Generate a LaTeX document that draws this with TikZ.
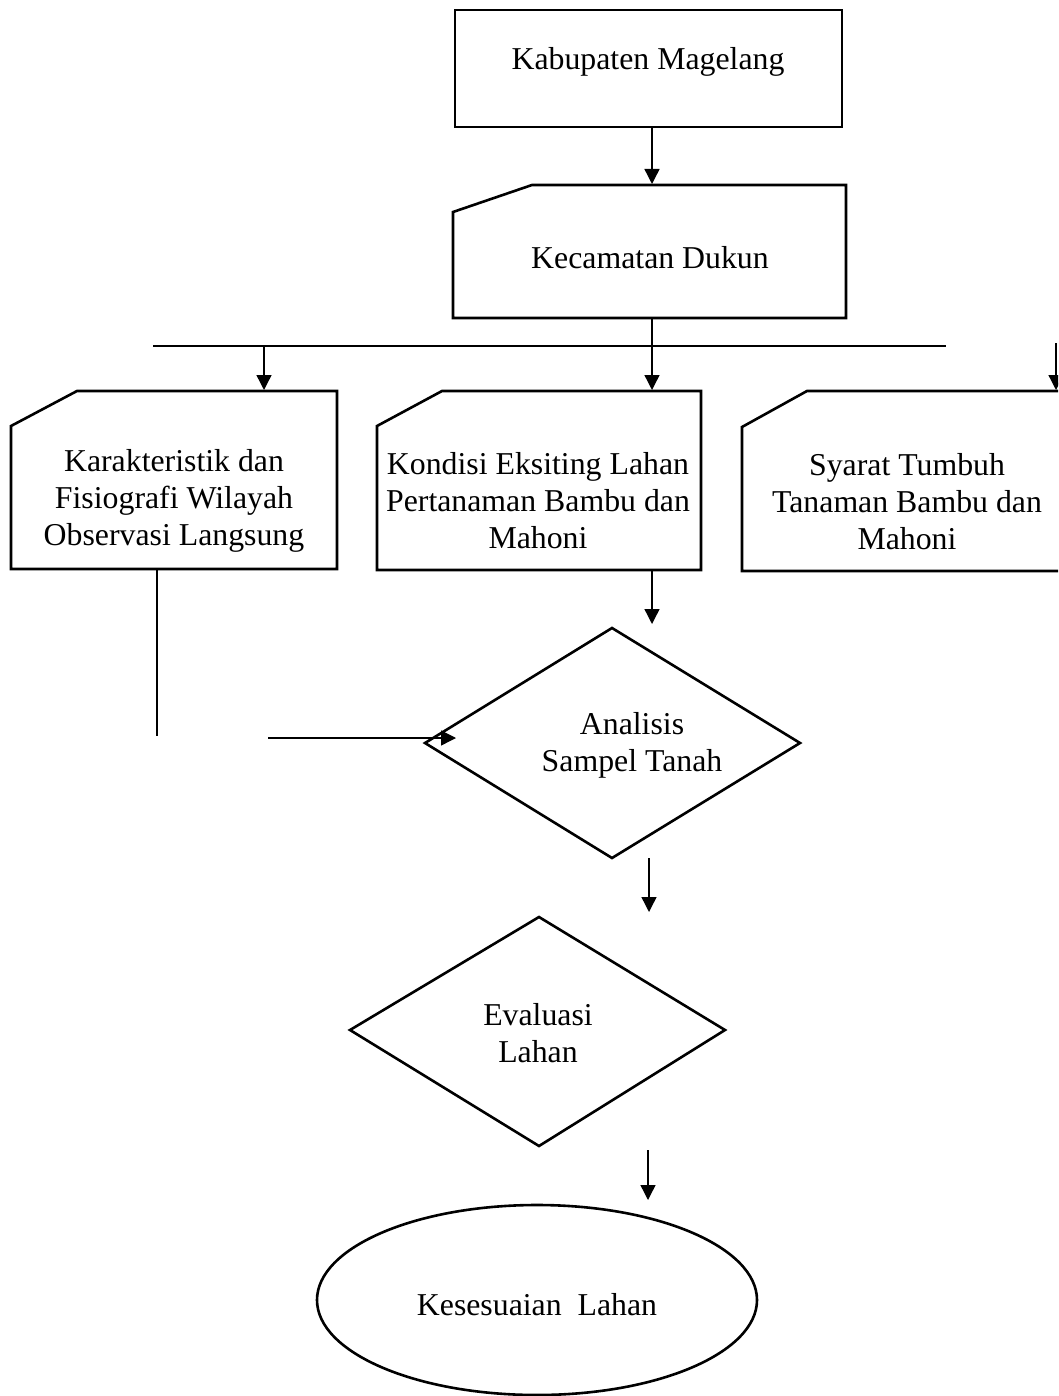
\documentclass[tikz,border=0pt]{standalone}
\usepackage{fontspec}
\setmainfont{Liberation Serif}
\usetikzlibrary{arrows.meta}
\tikzset{
  shapeline/.style={line width=2.6pt, line join=miter},
  conn/.style={line width=1.4pt},
  arr/.style={conn, -{Triangle[length=15pt,width=15pt]}},
  lbl/.style={align=center, font=\fontsize{31.8}{37}\selectfont, inner sep=0pt},
}
\begin{document}
\begin{tikzpicture}[x=1pt,y=-1pt]
\useasboundingbox (0,0) rectangle (1058,1396);
\begin{scope}
\clip (0,0) rectangle (1058,1396);
% Box 1
\draw[shapeline] (455,10) rectangle (842,127);
\node[lbl] (kab) at (648,62) {Kabupaten Magelang};
\coordinate (kabB) at (652,127);
% Card: Kecamatan
\draw[shapeline] (532,185) -- (846,185) -- (846,318) -- (453,318) -- (453,212) -- cycle;
\node[lbl] (kec) at (650,258) {Kecamatan Dukun};
\coordinate (kecT) at (652,184);
\coordinate (kecB) at (652,318);
% Card A
\draw[shapeline] (77,391) -- (337,391) -- (337,569) -- (11,569) -- (11,426) -- cycle;
\node[lbl] (kar) at (174,501) {Karakteristik dan\\Fisiografi Wilayah\\Observasi Langsung};
\coordinate (karT) at (264,390);
\coordinate (karB) at (157,570);
% Card B
\draw[shapeline] (442,391) -- (701,391) -- (701,570) -- (377,570) -- (377,426) -- cycle;
\node[lbl] (kon) at (538,501) {Kondisi Eksiting Lahan\\Pertanaman Bambu dan\\Mahoni};
\coordinate (konT) at (652,390);
\coordinate (konB) at (652,571);
% Card C
\draw[shapeline] (807,391) -- (1070,391) -- (1070,571) -- (742,571) -- (742,427) -- cycle;
\node[lbl] (sya) at (907,502) {Syarat Tumbuh\\Tanaman Bambu dan\\Mahoni};
\coordinate (syaT) at (1056,390);
% Diamond 1
\draw[shapeline] (425,743) -- (612,628) -- (800,743) -- (612,858) -- cycle;
\node[lbl] (ana) at (632,745) {Analisis\\Sampel Tanah};
\coordinate (anaT) at (652,624);
\coordinate (anaL) at (456,738);
\coordinate (anaB) at (649,858);
% Diamond 2
\draw[shapeline] (350,1030) -- (539,917) -- (725,1030) -- (539,1146) -- cycle;
\node[lbl] (eva) at (538,1033) {Evaluasi\\Lahan};
\coordinate (evaT) at (649,912);
\coordinate (evaB) at (648,1150);
% Ellipse
\draw[shapeline] (537,1300) ellipse [x radius=220, y radius=95];
\node[lbl] (kes) at (537,1305) {Kesesuaian\ \ Lahan};
\coordinate (kesT) at (648,1200);
% Connectors
\draw[arr] (kabB) -- (kecT);
\coordinate (busL) at (153,346);
\coordinate (busR) at (946,346);
\draw[conn] (busL) -- (busR);
\draw[conn] (kecB) -- (652,346);
\draw[arr] (264,346) -- (karT);
\draw[arr] (652,346) -- (konT);
\draw[arr] (1056,343) -- (syaT);
\coordinate (karE) at (157,736);
\draw[conn] (karB) -- (karE);
\coordinate (hS) at (268,738);
\draw[arr] (hS) -- (anaL);
\draw[arr] (konB) -- (anaT);
\draw[arr] (anaB) -- (evaT);
\draw[arr] (evaB) -- (kesT);
\end{scope}
\end{tikzpicture}
\end{document}
